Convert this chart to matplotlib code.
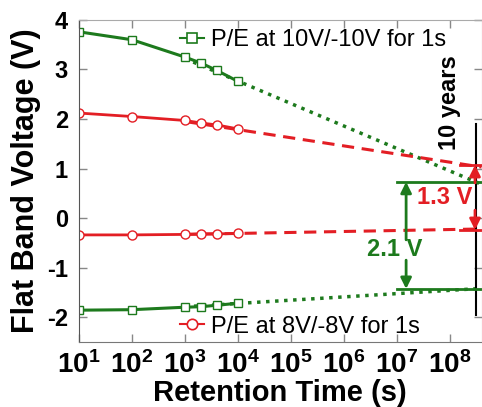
import math
import matplotlib
matplotlib.use('Agg')
import matplotlib.pyplot as plt
from matplotlib.ticker import FuncFormatter, NullLocator, LogLocator
from matplotlib.lines import Line2D

plt.rcParams['font.family'] = ['Liberation Sans', 'DejaVu Sans']
plt.rcParams['axes.unicode_minus'] = False
plt.rcParams['mathtext.fontset'] = 'custom'
plt.rcParams['mathtext.rm'] = 'Liberation Sans:bold'
plt.rcParams['mathtext.bf'] = 'Liberation Sans:bold'

# measured retention points
t = [10, 100, 1000, 2000, 4000, 10000]
green_prog = [3.76, 3.60, 3.25, 3.13, 2.98, 2.76]
green_erase = [-1.86, -1.85, -1.80, -1.79, -1.76, -1.72]
red_prog = [2.12, 2.05, 1.97, 1.92, 1.88, 1.80]
red_erase = [-0.34, -0.34, -0.33, -0.32, -0.32, -0.31]

# extrapolation lines
t_fit = [1e3, 10 ** 8.6]
green_prog_fit = [3.22, 0.68]
green_erase_fit = [-1.79, -1.42]
red_prog_fit = [1.95, 1.03]
red_erase_fit = [-0.33, -0.22]

# 10 year windows
ten_years = 3.15e8
green_window = [0.73, -1.43]
red_window = [1.07, -0.24]

green = '#1d7a1d'
red = '#e31e24'

fig = plt.figure(figsize=(4.82, 4.07), dpi=100)
ax = fig.add_axes([0.164, 0.16, 0.835, 0.791])
ax.set_xscale('log')
ax.set_xlim(10, 10 ** 8.6)
ax.set_ylim(-2.5, 4)

# extrapolations first, then data on top
ax.plot(t_fit, green_prog_fit, color=green, lw=2.5, ls=(0, (1, 1.6)))
ax.plot(t_fit, green_erase_fit, color=green, lw=2.5, ls=(0, (1, 1.6)))
ax.plot(t_fit, red_prog_fit, color=red, lw=2.2, ls=(0, (4, 2.5)))
ax.plot(t_fit, red_erase_fit, color=red, lw=2.2, ls=(0, (4, 2.5)))

for y in (green_prog, green_erase):
    ax.plot(t, y, color=green, lw=2.2, marker='s', ms=6, mfc='white', mec=green, mew=1)
for y in (red_prog, red_erase):
    ax.plot(t, y, color=red, lw=2, marker='o', ms=6.5, mfc='white', mec=red, mew=1)

# window markers
ax.plot([ten_years, ten_years], [-1.95, 1.9], color='black', lw=1.5)
for v in green_window:
    ax.plot([1e7, 10 ** 8.6], [v, v], color=green, lw=2)
for v in red_window:
    ax.plot([10 ** 8.2, 10 ** 8.6], [v, v], color=red, lw=2)

ap_g = dict(arrowstyle='-|>', color=green, lw=2, mutation_scale=16, shrinkA=0, shrinkB=0)
ap_r = dict(arrowstyle='-|>', color=red, lw=2, mutation_scale=16, shrinkA=0, shrinkB=0)
ax.annotate('', xy=(1.5e7, green_window[0]), xytext=(1.5e7, -0.44), arrowprops=ap_g)
ax.annotate('', xy=(1.5e7, green_window[1]), xytext=(1.5e7, -0.85), arrowprops=ap_g)
ax.annotate('', xy=(3.0e8, red_window[0]), xytext=(3.0e8, 0.71), arrowprops=ap_r)
ax.annotate('', xy=(3.0e8, red_window[1]), xytext=(3.0e8, 0.16), arrowprops=ap_r)

ax.text(10 ** 6.96, -0.63, '2.1 V', color=green, fontsize=17, fontweight='bold',
        ha='center', va='center')
ax.text(10 ** 7.9, 0.42, '1.3 V', color=red, fontsize=17, fontweight='bold',
        ha='center', va='center')
ax.text(10 ** 8.0, 2.34, '10 years', color='black', fontsize=17, fontweight='bold',
        rotation=90, ha='center', va='center')

# legends
h_g = Line2D([], [], color=green, lw=1.5, marker='s', ms=7, mfc='white', mec=green, mew=1.2)
h_r = Line2D([], [], color=red, lw=1.5, marker='o', ms=7.5, mfc='white', mec=red, mew=1.2)
leg1 = ax.legend([h_g], ['P/E at 10V/-10V for 1s'], loc='center left',
                 bbox_to_anchor=(0.251, 0.938), frameon=False, fontsize=17,
                 borderpad=0, borderaxespad=0, handlelength=1.0, handletextpad=0.3)
ax.add_artist(leg1)
ax.legend([h_r], ['P/E at 8V/-8V for 1s'], loc='center left',
          bbox_to_anchor=(0.251, 0.047), frameon=False, fontsize=17,
          borderpad=0, borderaxespad=0, handlelength=1.0, handletextpad=0.3)

# axes styling
ax.xaxis.set_major_locator(LogLocator(base=10, numticks=12))
ax.xaxis.set_minor_locator(NullLocator())
ax.xaxis.set_major_formatter(FuncFormatter(lambda v, p: r'$\mathbf{10^{%d}}$' % round(math.log10(v))))
ax.set_yticks([-2, -1, 0, 1, 2, 3, 4])
ax.tick_params(direction='in', length=6, width=1, color='#888888', top=True, right=True)
ax.tick_params(axis='x', labelsize=20, pad=7)
ax.tick_params(axis='y', labelsize=17, pad=8)
for lab in ax.get_yticklabels():
    lab.set_fontweight('bold')
ax.spines['left'].set_color('#555555')
ax.spines['bottom'].set_color('#777777')
ax.spines['top'].set_color('#aaaaaa')
ax.spines['right'].set_color('#aaaaaa')

ax.set_xlabel('Retention Time (s)', fontsize=21, fontweight='bold', labelpad=0)
ax.set_ylabel('Flat Band Voltage (V)', fontsize=22, fontweight='bold', labelpad=4)

fig.savefig('out.png', dpi=100)
